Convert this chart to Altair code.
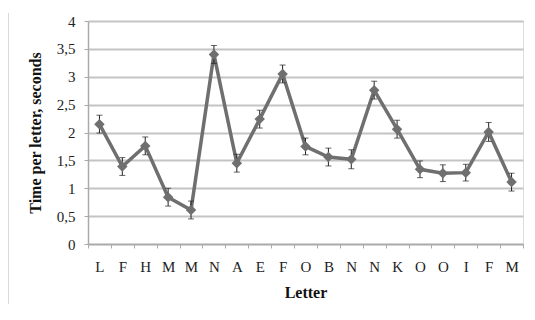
import altair as alt
import pandas as pd

letters = ["L", "F", "H", "M", "M", "N", "A", "E", "F", "O", "B", "N", "N", "K", "O", "O", "I", "F", "M"]
times = [2.15, 1.39, 1.76, 0.84, 0.61, 3.40, 1.45, 2.24, 3.05, 1.75, 1.56, 1.52, 2.76, 2.06, 1.34, 1.27, 1.28, 2.01, 1.11]
errors = [0.16, 0.16, 0.16, 0.16, 0.16, 0.16, 0.16, 0.16, 0.16, 0.15, 0.16, 0.17, 0.16, 0.16, 0.15, 0.15, 0.15, 0.17, 0.16]
y_ticks = [0, 0.5, 1, 1.5, 2, 2.5, 3, 3.5, 4]

df = pd.DataFrame({
    "idx": list(range(len(letters))),
    "letter": letters,
    "time": times,
    "lo": [t - e for t, e in zip(times, errors)],
    "hi": [t + e for t, e in zip(times, errors)],
})

label_map = "[" + ",".join('"%s"' % l for l in letters) + "]"
FONT = "Liberation Serif"
GRAY = "#6f6f6f"
YTITLE = "Time per letter, seconds"

x = alt.X("idx:O", title="Letter",
          axis=alt.Axis(labelExpr=label_map + "[datum.value]", labelAngle=0,
                        labelFont=FONT, labelFontSize=15, labelColor="#222",
                        labelPadding=11, titleFont=FONT, titleFontSize=16,
                        titleFontWeight="bold", titleColor="#111", titlePadding=10,
                        tickBand="extent", tickSize=4, tickColor="#aaaaaa",
                        domainColor="#aaaaaa", domainWidth=1.5, grid=False),
          scale=alt.Scale(paddingInner=0, paddingOuter=0))

y_axis = alt.Axis(values=y_ticks, labelOverlap=False,
                  labelExpr="replace(format(datum.value, '~g'), '.', ',')",
                  labelFont=FONT, labelFontSize=15, labelColor="#222",
                  labelPadding=9, tickSize=4, tickColor="#aaaaaa",
                  domainColor="#aaaaaa", domainWidth=1.5,
                  gridColor="#c4c4c4", gridWidth=2,
                  titleFont=FONT, titleFontSize=16, titleFontWeight="bold",
                  titleColor="#111", titlePadding=13)
y_scale = alt.Scale(domain=[0, 4], nice=False)

y = alt.Y("time:Q", title=YTITLE, scale=y_scale, axis=y_axis)

base = alt.Chart(df)

line = base.mark_line(color=GRAY, strokeWidth=3.5).encode(x=x, y=y)
pts = base.mark_point(shape="diamond", filled=True, color=GRAY, size=110, opacity=1).encode(x=x, y=y)
err = base.mark_errorbar(color="#222", ticks=alt.MarkConfig(size=6), thickness=1).encode(
    x=x, y=alt.Y("lo:Q", title=YTITLE, axis=y_axis, scale=y_scale), y2="hi:Q")

border = alt.Chart(pd.DataFrame({"a": [0]})).mark_rule(color="#cccccc", strokeWidth=1.5).encode(
    x=alt.value(-80), y=alt.value(-8), y2=alt.value(310))

chart = alt.layer(line, err, pts, border).properties(
    width=435, height=223,
    autosize=alt.AutoSizeParams(type="none"),
    padding={"left": 80, "top": 13, "right": 4, "bottom": 60},
).configure_view(stroke=None).configure(background="white")

chart.save("out.html", embed_options={"renderer": "svg", "actions": False})
